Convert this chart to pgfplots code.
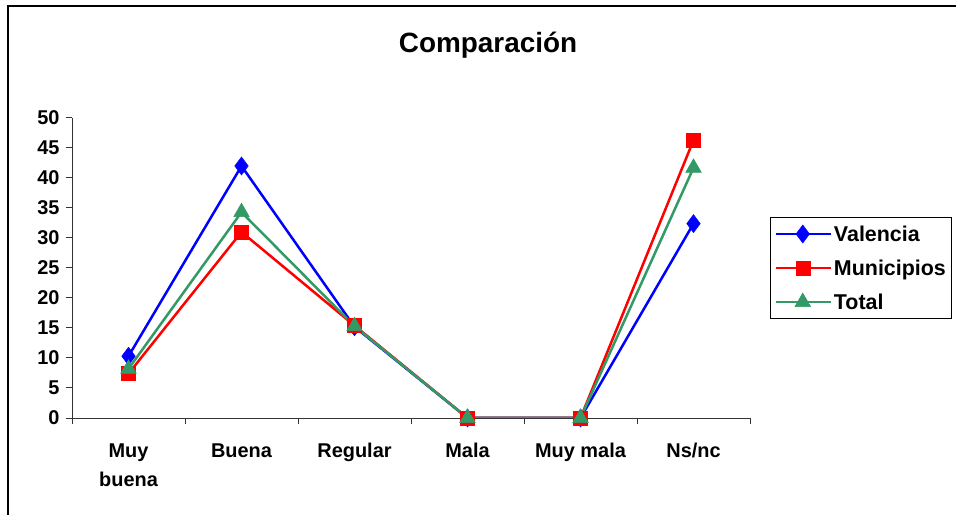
\documentclass[border=0pt]{standalone}
\usepackage{fontspec}
\setmainfont{Liberation Sans}
\usepackage{pgfplots}
\pgfplotsset{compat=1.18}

\definecolor{valblue}{RGB}{0,0,255}
\definecolor{munred}{RGB}{255,0,0}
\definecolor{totgreen}{RGB}{51,153,102}

\begin{document}
\begin{tikzpicture}
\useasboundingbox (0,0) rectangle (956bp,515bp);
% outer chart frame (only left and top edges visible)
\draw[line width=1.5bp] (8bp,0) -- (8bp,509bp) -- (960bp,509bp);
\node[anchor=base, font=\bfseries\fontsize{28}{32}\selectfont] at (488bp,462bp) {Comparación};

\begin{axis}[
    at={(72bp,97bp)}, anchor=south west,
    scale only axis,
    width=678bp, height=300bp,
    xmin=-0.5, xmax=5.5,
    ymin=0, ymax=50,
    axis x line=bottom, axis y line=left,
    axis line style={-, line width=1bp, black!80},
    tick align=outside,
    ytick={0,5,...,50},
    xtick={0,...,5},
    xticklabels={{Muy\\buena},Buena,Regular,Mala,{Muy mala},Ns/nc},
    major x tick style={draw=none},
    minor xtick={-0.5,0.5,...,5.5},
    minor tick length=6bp,
    major tick length=6bp,
    tick style={line width=1bp, black!80},
    /pgf/number format/assume math mode=true,
    ticklabel style={font=\bfseries\fontsize{20}{29}\selectfont},
    yticklabel style={xshift=-3bp},
    xticklabel style={align=center, yshift=-16bp},
    legend cell align=left,
    legend style={at={(1.0295,0.67)}, anchor=north west,
        draw=black, line width=1bp, inner xsep=4bp, inner ysep=6bp,
        font=\bfseries\fontsize{21.5}{24}\selectfont,
        row sep=13bp},
    legend image code/.code={\draw[mark repeat=2,mark phase=2,#1]
        plot coordinates {(0bp,0bp) (27bp,0bp) (55bp,0bp)};},
]
\addplot[color=valblue, line width=2.5bp, mark=diamond*, mark size=9bp,
    mark options={solid, line width=0.5bp}]
    coordinates {(0,10.3) (1,42.0) (2,15.2) (3,0) (4,0) (5,32.4)};
\addlegendentry{Valencia}
\addplot[color=munred, line width=2.5bp, mark=square*, mark size=7bp,
    mark options={solid, line width=0.5bp}]
    coordinates {(0,7.4) (1,31.0) (2,15.4) (3,0) (4,0) (5,46.3)};
\addlegendentry{Municipios}
\addplot[color=totgreen, line width=2.5bp, mark=triangle*, mark size=9bp,
    mark options={solid, line width=0.5bp}]
    coordinates {(0,8.2) (1,34.3) (2,15.3) (3,0) (4,0) (5,41.7)};
\addlegendentry{Total}
\end{axis}
\end{tikzpicture}
\end{document}
